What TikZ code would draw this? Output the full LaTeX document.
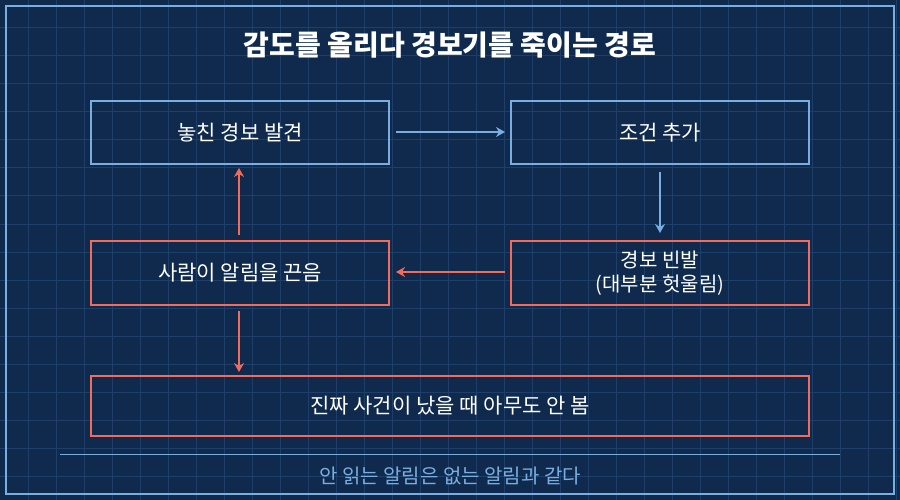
\documentclass[tikz,border=0pt]{standalone}
\usepackage{fontspec}
\setmainfont{Noto Sans CJK KR}
\usetikzlibrary{arrows.meta}
\definecolor{bg}{HTML}{0F2A4D}
\definecolor{gridc}{HTML}{1F3F6B}
\definecolor{lblue}{HTML}{7AAEE0}
\definecolor{lred}{HTML}{F26B5B}
\begin{document}
\begin{tikzpicture}[x=1pt,y=-1pt,
  bx/.style={draw=#1,line width=2.5pt,text=white,font=\fontsize{21}{26}\selectfont,align=center,inner sep=0},
  ar/.style={draw=#1,line width=2pt,-{Stealth[length=9pt,width=10pt,inset=3pt]}}]
\fill[bg] (0,0) rectangle (900,500);
\useasboundingbox (0,0) rectangle (900,500);
\foreach \i in {28,56,...,900} \draw[gridc,line width=1pt] (\i,0) -- (\i,500);
\foreach \i in {28,56,...,500} \draw[gridc,line width=1pt] (0,\i) -- (900,\i);
\draw[lblue,line width=2pt] (6,6) rectangle (894,494);
\node[text=white,font=\bfseries\fontsize{28}{32}\selectfont] (t) at (450,45) {감도를 올리다 경보기를 죽이는 경로};
\node[bx=lblue,minimum width=298pt,minimum height=63pt] (a) at (240,132.5) {놓친 경보 발견};
\node[bx=lblue,minimum width=298pt,minimum height=63pt] (b) at (660,132.5) {조건 추가};
\node[bx=lred,minimum width=298pt,minimum height=64pt] (c) at (240,273) {사람이 알림을 끈음};
\node[bx=lred,minimum width=298pt,minimum height=64pt,font=\fontsize{20}{24}\selectfont] (d) at (660,273) {경보 빈발\\(대부분 헛울림)};
\node[bx=lred,minimum width=718pt,minimum height=60pt] (e) at (450,406) {진짜 사건이 났을 때 아무도 안 봄};
\coordinate (a1) at (396,132); \coordinate (a2) at (505,132);
\coordinate (b1) at (660,172); \coordinate (b2) at (660,233);
\coordinate (d1) at (505,272); \coordinate (d2) at (396,272);
\coordinate (c1) at (239,235); \coordinate (c2) at (239,168);
\coordinate (c3) at (239,311); \coordinate (c4) at (239,372);
\draw[ar=lblue] (a1) -- (a2);
\draw[ar=lblue] (b1) -- (b2);
\draw[ar=lred] (d1) -- (d2);
\draw[ar=lred] (c1) -- (c2);
\draw[ar=lred] (c3) -- (c4);
\coordinate (l1) at (60,454); \coordinate (l2) at (840,454);
\draw[lblue,line width=1pt] (l1) -- (l2);
\node[text=lblue,font=\fontsize{20}{24}\selectfont] (f) at (450,476) {안 읽는 알림은 없는 알림과 같다};
\end{tikzpicture}
\end{document}
